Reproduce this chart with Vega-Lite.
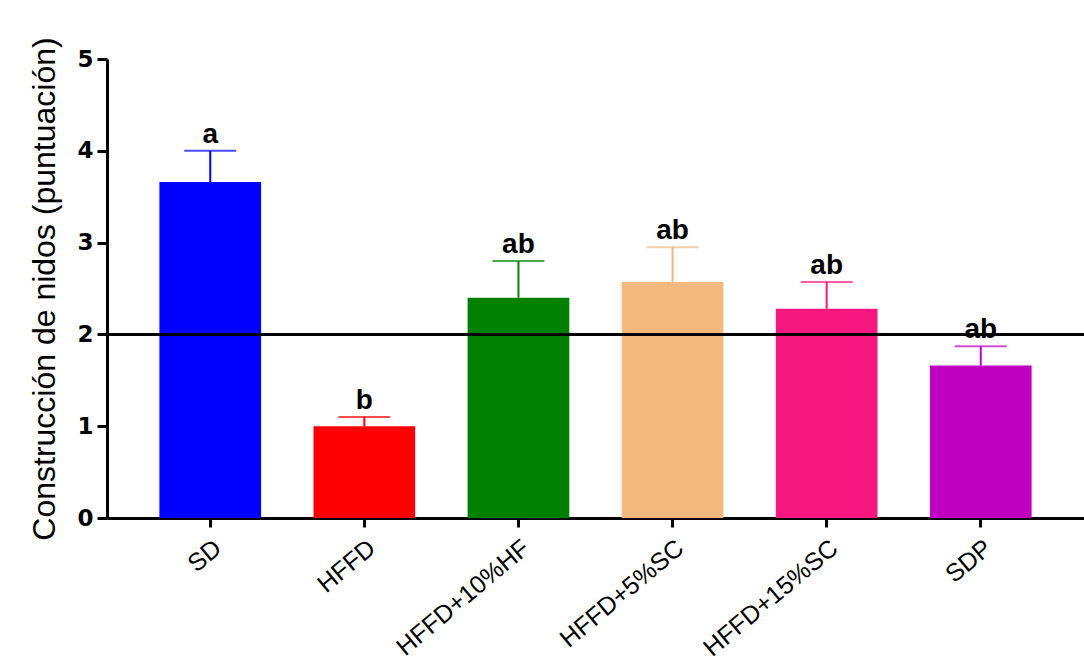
{
  "$schema": "https://vega.github.io/schema/vega-lite/v6.json",
  "width": 977,
  "height": 459,
  "autosize": "none",
  "padding": {"left": 107, "top": 59, "right": 0, "bottom": 149},
  "background": "white",
  "config": {"view": {"stroke": null}, "font": "Liberation Sans"},
  "data": {
    "values": [
      {"group": "SD", "mean": 3.66, "upper": 4.0, "letter": "a"},
      {"group": "HFFD", "mean": 1.0, "upper": 1.1, "letter": "b"},
      {"group": "HFFD+10%HF", "mean": 2.4, "upper": 2.8, "letter": "ab"},
      {"group": "HFFD+5%SC", "mean": 2.57, "upper": 2.95, "letter": "ab"},
      {"group": "HFFD+15%SC", "mean": 2.28, "upper": 2.57, "letter": "ab"},
      {"group": "SDP", "mean": 1.66, "upper": 1.87, "letter": "ab"}
    ]
  },
  "layer": [
    {
      "mark": {"type": "bar"},
      "encoding": {
        "x": {
          "field": "group", "type": "nominal", "sort": null,
          "scale": {"paddingInner": 0.34, "paddingOuter": 0.34},
          "axis": {
            "title": null, "labelAngle": -40, "labelFontSize": 25, "labelColor": "black", "labelLimit": 0,
            "labelFont": "Liberation Sans", "domainColor": "black", "domainWidth": 3,
            "tickColor": "black", "tickWidth": 3, "tickSize": 9, "labelPadding": 8
          }
        },
        "y": {
          "field": "mean", "type": "quantitative",
          "scale": {"domain": [0, 5], "nice": false},
          "axis": {
            "title": "Construcción de nidos (puntuación)", "titleFontSize": 32, "titleFontWeight": "normal",
            "titleFont": "Liberation Sans", "titleColor": "black", "titlePadding": 15,
            "values": [0, 1, 2, 3, 4, 5], "format": "d", "grid": false,
            "labelFont": "DejaVu Sans", "labelFontWeight": "bold", "labelFontSize": 23, "labelColor": "black",
            "labelPadding": 4, "domainColor": "black", "domainWidth": 3,
            "tickColor": "black", "tickWidth": 3, "tickSize": 10
          }
        },
        "color": {
          "field": "group", "type": "nominal", "legend": null,
          "scale": {
            "domain": ["SD", "HFFD", "HFFD+10%HF", "HFFD+5%SC", "HFFD+15%SC", "SDP"],
            "range": ["#0000FF", "#FF0000", "#008000", "#F2B87E", "#F7187F", "#C000C0"]
          }
        }
      }
    },
    {
      "mark": {"type": "rule", "strokeWidth": 2},
      "encoding": {
        "x": {"field": "group", "type": "nominal", "sort": null},
        "y": {"field": "mean", "type": "quantitative"},
        "y2": {"field": "upper"},
        "color": {"field": "group", "type": "nominal", "legend": null}
      }
    },
    {
      "mark": {"type": "tick", "thickness": 2, "size": 52, "orient": "horizontal"},
      "encoding": {
        "x": {"field": "group", "type": "nominal", "sort": null},
        "y": {"field": "upper", "type": "quantitative"},
        "color": {"field": "group", "type": "nominal", "legend": null}
      }
    },
    {
      "mark": {"type": "text", "baseline": "alphabetic", "dy": -8, "fontWeight": "bold", "fontSize": 28, "color": "black", "font": "Liberation Sans"},
      "encoding": {
        "x": {"field": "group", "type": "nominal", "sort": null},
        "y": {"field": "upper", "type": "quantitative"},
        "text": {"field": "letter"}
      }
    },
    {
      "mark": {"type": "rule", "strokeWidth": 2.5, "color": "black"},
      "encoding": {"y": {"datum": 2}}
    }
  ]
}
